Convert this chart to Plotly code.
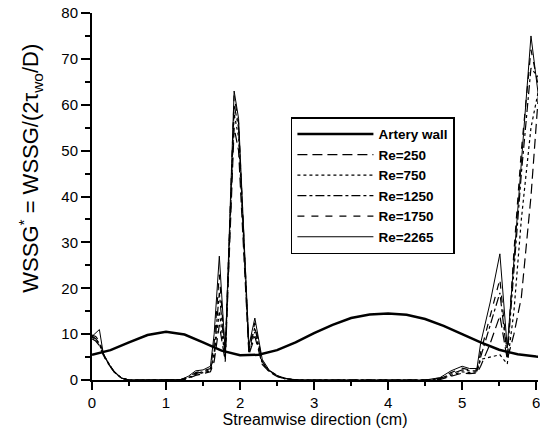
import plotly.graph_objects as go

# ---------------- data ----------------
wall_x = [0.0, 0.25, 0.5, 0.75, 1.0, 1.25, 1.5, 1.75, 2.0, 2.25, 2.5, 2.75, 3.0,
          3.25, 3.5, 3.75, 4.0, 4.25, 4.5, 4.75, 5.0, 5.25, 5.5, 5.75, 6.0, 6.1]
wall_y = [5.5, 6.5, 8.2, 9.8, 10.5, 9.9, 8.2, 6.4, 5.4, 5.5, 6.5, 8.2, 10.2,
          12.0, 13.5, 14.3, 14.5, 14.2, 13.3, 11.8, 10.0, 8.2, 6.6, 5.6, 5.1, 5.0]

re_x = [0.0, 0.05, 0.1, 0.15, 0.2, 0.3, 0.4, 0.5, 1.0, 1.2, 1.3, 1.4, 1.5, 1.6,
        1.65, 1.72, 1.8, 1.85, 1.92, 1.98, 2.06, 2.12, 2.2, 2.3, 2.4, 2.5, 2.6,
        2.7, 2.8, 4.5, 4.7, 4.85, 5.0, 5.1, 5.2, 5.25, 5.38, 5.51, 5.61, 5.7,
        5.8, 5.93, 6.03]

re250 = [9.0, 8.5, 7.5, 5.5, 4.0, 1.7, 0.4, 0, 0, 0, 0.3, 1.0, 1.4, 1.8,
         4, 12, 4, 24, 55, 50, 25, 5.5, 9.5, 3.4, 1.7, 0.8, 0.3,
         0.1, 0, 0, 0.1, 0.8, 1.5, 1.4, 1.5, 3, 8, 14, 4.5, 10,
         18, 40, 62]
re750 = [9.4, 8.8, 7.8, 5.6, 4.1, 1.7, 0.4, 0, 0, 0.1, 0.4, 1.2, 1.6, 2.0,
         5, 15, 4.5, 26, 58, 53, 26, 6, 10.5, 3.6, 1.8, 0.8, 0.3,
         0.1, 0, 0, 0.2, 1.0, 1.8, 1.6, 1.8, 4.5, 5.0, 5.5, 3.5, 15,
         35, 55, 63]
re1250 = [9.6, 9.0, 8.0, 5.8, 4.2, 1.8, 0.4, 0, 0, 0.1, 0.5, 1.4, 1.8, 2.2,
          6, 19, 5, 27, 60, 55, 27, 6.5, 11.5, 3.8, 1.9, 0.9, 0.3,
          0.1, 0, 0, 0.3, 1.3, 2.2, 2.0, 2.0, 5, 12, 19, 5, 24,
          45, 68, 66]
re1750 = [9.8, 9.5, 8.5, 6.0, 4.3, 1.8, 0.4, 0, 0, 0.1, 0.6, 1.6, 2.0, 2.5,
          8, 23, 5.5, 28, 62, 56, 28, 7, 12.5, 4, 2, 1, 0.4,
          0.1, 0, 0, 0.4, 1.6, 2.6, 2.2, 2.2, 6, 14, 22, 5.5, 28,
          50, 72, 64]
re2265 = [9.5, 10.2, 11.0, 6.0, 4.2, 1.8, 0.4, 0.0, 0.0, 0.1, 0.8, 2.0, 2.2, 3.0,
          10, 27.0, 6.0, 29, 63.0, 57.0, 29, 7.5, 13.5, 4.5, 2.0, 1.0, 0.4,
          0.1, 0.0, 0.0, 0.5, 2.0, 3.0, 2.5, 2.5, 8.0, 17, 27.5, 7.0, 26,
          47, 75.0, 62]

series_names = ["Re=250", "Re=750", "Re=1250", "Re=1750", "Re=2265"]
series_vals = [re250, re750, re1250, re1750, re2265]
series_dash = ["10px,5px", "dot", "dashdot", "7px,7px", "solid"]
series_width = [1.2, 1.2, 1.2, 1.2, 1.0]

y_ticks = [0, 10, 20, 30, 40, 50, 60, 70, 80]
x_ticks = [0, 1, 2, 3, 4, 5, 6]

FONT = "Liberation Sans, Arial, sans-serif"

fig = go.Figure()
fig.add_trace(go.Scatter(x=wall_x, y=wall_y, mode="lines", name="Artery wall",
                         line=dict(color="black", width=2.5)))
for n, v, d, w in zip(series_names, series_vals, series_dash, series_width):
    fig.add_trace(go.Scatter(x=re_x, y=v, mode="lines", name=n,
                             line=dict(color="black", width=w, dash=d)))

fig.update_layout(
    width=540, height=429,
    margin=dict(l=92, r=0, t=13, b=49),
    paper_bgcolor="white", plot_bgcolor="white",
    font=dict(family=FONT, color="black"),
    showlegend=True,
    legend=dict(x=0.446, y=0.716, xanchor="left", yanchor="top",
                bordercolor="black", borderwidth=1.5, bgcolor="white",
                font=dict(size=13.5, family=FONT, weight="bold"),
                itemwidth=76, tracegroupgap=0),
    xaxis=dict(range=[0, 6.025], tickvals=x_ticks, showgrid=False, zeroline=False,
               showline=True, linecolor="black", linewidth=2,
               ticks="outside", ticklen=8, tickwidth=2, tickcolor="black",
               tickfont=dict(size=15), ticklabeloverflow="allow",
               minor=dict(dtick=0.5, ticks="outside", ticklen=4, tickwidth=1.5,
                          tickcolor="black"),
               title=dict(text="Streamwise direction (cm)", font=dict(size=16),
                          standoff=4)),
    yaxis=dict(range=[0, 80], tickvals=y_ticks, showgrid=False, zeroline=False,
               showline=True, linecolor="black", linewidth=2,
               ticks="outside", ticklen=9, tickwidth=2, tickcolor="black",
               tickfont=dict(size=15),
               minor=dict(dtick=5, ticks="outside", ticklen=5, tickwidth=1.5,
                          tickcolor="black")),
    annotations=[dict(text="WSSG<sup>*</sup> = WSSG/(2τ<sub>wo</sub>/D)",
                      xref="paper", yref="paper", x=-0.138, y=0.577,
                      xanchor="center", yanchor="middle", textangle=-90,
                      showarrow=False, font=dict(size=22, family=FONT))],
)

fig.write_html("out.html")
